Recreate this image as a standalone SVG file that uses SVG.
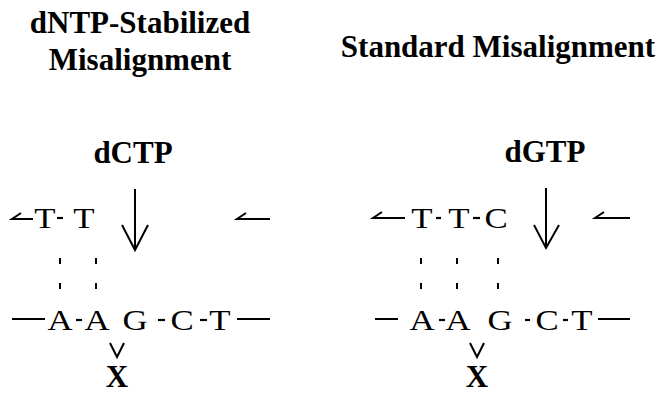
<svg xmlns="http://www.w3.org/2000/svg" width="666" height="394" viewBox="0 0 666 394">
<style>
.title{font-family:"Liberation Serif","Times New Roman",serif;font-weight:bold;font-size:31px;fill:#000;text-anchor:middle}
.base{font-family:"Liberation Serif","Times New Roman",serif;font-size:29px;fill:#000;text-anchor:middle}
.ln{stroke:#000;stroke-width:2;fill:none}
.dash{stroke:#000;stroke-width:2.2}
.dot{fill:#000}
</style>
<rect width="666" height="394" fill="#fff"/>
<g id="title-left">
<text class="title" x="140" y="33">dNTP-Stabilized</text>
<text class="title" x="140" y="70">Misalignment</text>
</g>
<g id="title-right">
<text class="title" x="498" y="57">Standard Misalignment</text>
</g>
<g id="left-panel">
<text class="title" x="133" y="163">dCTP</text>
<path class="ln" d="M21 213 L12 219 L33 219"/>
<text class="base" transform="translate(45 228) scale(1.2 1)">T</text>
<line class="dash" x1="57" y1="218" x2="63" y2="218"/>
<text class="base" transform="translate(84 228) scale(1.2 1)">T</text>
<path class="ln" d="M246 213 L237 219 L270 219"/>
<rect class="dot" x="59" y="258" width="2" height="6"/>
<rect class="dot" x="59" y="283" width="2" height="6"/>
<rect class="dot" x="95" y="258" width="2" height="6"/>
<rect class="dot" x="95" y="283" width="2" height="6"/>
<line class="ln" x1="12" y1="319" x2="45" y2="319"/>
<text class="base" transform="translate(60 330) scale(1.2 1)">A</text>
<line class="dash" x1="76" y1="320" x2="82" y2="320"/>
<text class="base" transform="translate(97 330) scale(1.2 1)">A</text>
<text class="base" transform="translate(135 330) scale(1.2 1)">G</text>
<line class="dash" x1="158" y1="320" x2="165" y2="320"/>
<text class="base" transform="translate(182 330) scale(1.2 1)">C</text>
<line class="dash" x1="200" y1="320" x2="207" y2="320"/>
<text class="base" transform="translate(220 330) scale(1.2 1)">T</text>
<line class="ln" x1="237" y1="319" x2="270" y2="319"/>
<path class="ln" d="M110 343 L117 357 L124 343" stroke-width="1.5"/>
<text class="title" x="117" y="387">X</text>
</g>
<g id="right-panel">
<text class="title" x="545" y="162">dGTP</text>
<path class="ln" d="M382 212 L373 218 L405 218"/>
<text class="base" transform="translate(422 228) scale(1.2 1)">T</text>
<line class="dash" x1="436" y1="218" x2="441" y2="218"/>
<text class="base" transform="translate(459 228) scale(1.2 1)">T</text>
<line class="dash" x1="473" y1="218" x2="480" y2="218"/>
<text class="base" transform="translate(496 228) scale(1.2 1)">C</text>
<path class="ln" d="M604 212 L595 218 L630 218"/>
<rect class="dot" x="420" y="258" width="2" height="6"/>
<rect class="dot" x="420" y="283" width="2" height="6"/>
<rect class="dot" x="456" y="258" width="2" height="6"/>
<rect class="dot" x="456" y="283" width="2" height="6"/>
<rect class="dot" x="497" y="258" width="2" height="6"/>
<rect class="dot" x="497" y="283" width="2" height="6"/>
<line class="ln" x1="375" y1="319" x2="398" y2="319"/>
<text class="base" transform="translate(422 330) scale(1.2 1)">A</text>
<line class="dash" x1="439" y1="320" x2="445" y2="320"/>
<text class="base" transform="translate(458 330) scale(1.2 1)">A</text>
<text class="base" transform="translate(500 330) scale(1.2 1)">G</text>
<line class="dash" x1="525" y1="320" x2="530" y2="320"/>
<text class="base" transform="translate(547 330) scale(1.2 1)">C</text>
<line class="dash" x1="563" y1="320" x2="568" y2="320"/>
<text class="base" transform="translate(582 330) scale(1.2 1)">T</text>
<line class="ln" x1="598" y1="319" x2="630" y2="319"/>
<path class="ln" d="M470 343 L477 357 L484 343" stroke-width="1.5"/>
<text class="title" x="477" y="387">X</text>
</g>
<g id="connectors">
<path class="ln" d="M135 189 L135 250 M122 225 L135 250 L148 225"/>
<path class="ln" d="M546 188 L546 248 M534 225 L546 248 L559 225"/>
</g>
</svg>
